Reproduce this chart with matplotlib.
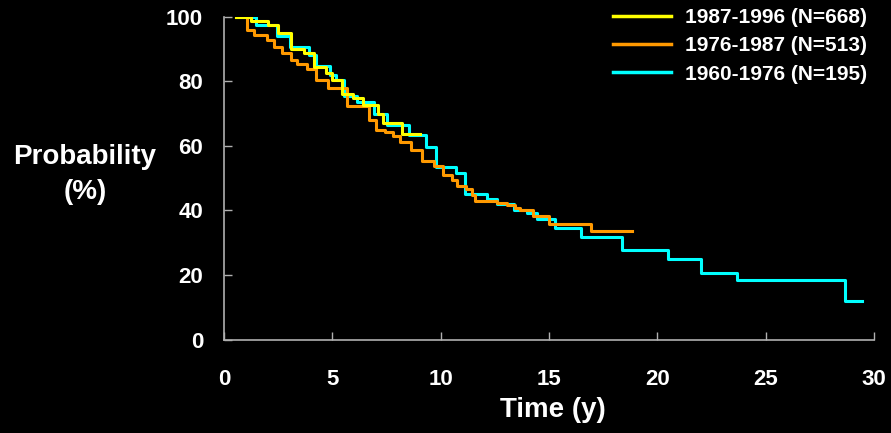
#!/usr/bin/env python3
"""Kaplan-Meier style step curves for three treatment periods (black slide style)."""
import matplotlib
matplotlib.use("Agg")
import matplotlib.pyplot as plt

# step change times (years) and survival probability (%) after each step
yellow_t = [0.55, 1.26, 2.05, 2.50, 3.08, 3.69, 4.15, 4.69, 5.00, 5.45, 5.95, 6.43, 7.09, 7.32, 8.23, 9.05]
yellow_s = [100, 98.6, 97.3, 95.0, 89.9, 88.8, 84.5, 82.6, 80.4, 76.0, 74.7, 72.8, 69.8, 67.2, 63.6, 63.6]

orange_t = [0.55, 1.08, 1.40, 1.97, 2.31, 2.66, 3.09, 3.38, 3.82, 4.25, 4.81, 5.66, 6.69, 7.00, 7.43,
            7.81, 8.12, 8.63, 9.12, 9.71, 10.09, 10.50, 10.77, 11.15, 11.43, 11.58, 12.61, 13.07,
            13.43, 13.66, 14.25, 15.01, 16.94, 18.81]
orange_s = [100, 95.8, 94.3, 92.7, 90.5, 88.8, 86.7, 85.5, 83.7, 80.3, 77.8, 72.3, 68.0, 65.0, 64.3,
            63.0, 61.3, 58.8, 55.4, 53.6, 50.9, 49.4, 47.7, 46.5, 44.7, 43.0, 42.4, 41.6,
            40.6, 40.1, 38.3, 35.8, 33.5, 33.5]

cyan_t = [0.55, 1.46, 2.43, 3.06, 3.92, 4.23, 4.89, 5.17, 5.54, 6.12, 6.92, 7.54, 8.55, 9.32, 9.78,
          10.71, 11.12, 12.12, 12.61, 13.40, 13.97, 14.43, 15.27, 16.47, 18.38, 20.50, 22.00,
          23.66, 28.66, 29.46]
cyan_s = [100, 97.4, 94.0, 90.5, 88.1, 84.7, 81.9, 80.3, 75.5, 73.6, 70.0, 66.3, 63.3, 59.5, 53.4,
          51.5, 45.0, 43.6, 42.1, 40.1, 39.1, 37.2, 34.6, 31.6, 27.6, 24.8, 20.6,
          18.5, 11.8, 11.8]

labels = ["1987-1996 (N=668)", "1976-1987 (N=513)", "1960-1976 (N=195)"]
x_ticks = [0, 5, 10, 15, 20, 25, 30]
y_ticks = [0, 20, 40, 60, 80, 100]

plt.rcParams["font.family"] = ["Liberation Sans", "DejaVu Sans"]
plt.rcParams["font.weight"] = "bold"

fig = plt.figure(figsize=(8.91, 4.33), dpi=100, facecolor="black")
ax = fig.add_axes([224 / 891, 1 - 339.5 / 433, 650 / 891, 322.8 / 433])
ax.set_facecolor("black")

lc, = ax.step(cyan_t, cyan_s, where="post", color="#00ffff", lw=2.2, zorder=3)
lo, = ax.step(orange_t, orange_s, where="post", color="#ff9900", lw=2.2, zorder=4)
ly, = ax.step(yellow_t, yellow_s, where="post", color="#ffff00", lw=2.2, zorder=5)

ax.set_xlim(0, 30)
ax.set_ylim(0, 100)
ax.set_xticks(x_ticks)
ax.set_yticks(y_ticks)
for side in ("top", "right"):
    ax.spines[side].set_visible(False)
for side in ("left", "bottom"):
    ax.spines[side].set_color("#b0b0b0")
    ax.spines[side].set_linewidth(1.2)
ax.tick_params(axis="both", direction="in", length=6, width=1, color="#b0b0b0",
               labelcolor="white", labelsize=16)
ax.tick_params(axis="x", pad=21)
ax.tick_params(axis="y", pad=15)
for t in ax.get_xticklabels() + ax.get_yticklabels():
    t.set_fontweight("bold")

ax.set_xlabel("Time (y)", color="white", fontsize=20, fontweight="bold", va="center")
ax.xaxis.set_label_coords(0.506, -0.218)
ax.set_ylabel("Probability\n(%)", color="white", fontsize=20, fontweight="bold",
              rotation=0, ha="center", va="center", linespacing=1.45)
ax.yaxis.set_label_coords(-0.214, 0.51)

leg = ax.legend([ly, lo, lc], labels, loc="upper left", frameon=False,
                bbox_to_anchor=(613 / 891, 1 - 8 / 433), bbox_transform=fig.transFigure,
                borderaxespad=0, borderpad=0, handlelength=2.8, handletextpad=0.65,
                labelspacing=0.45, prop={"size": 15, "weight": "bold"})
for txt in leg.get_texts():
    txt.set_color("white")
for h in leg.legend_handles:
    h.set_linewidth(2.5)

fig.savefig("out.png", dpi=100, facecolor="black")
plt.close(fig)
